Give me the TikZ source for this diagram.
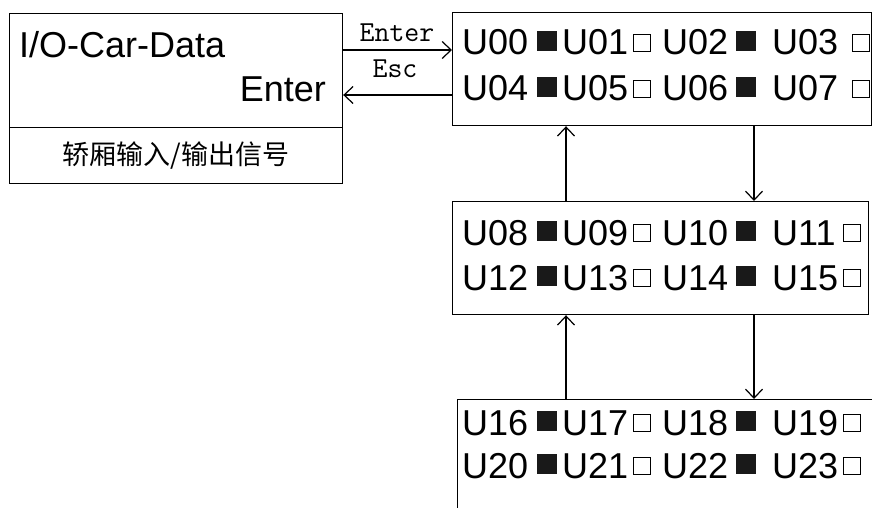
\documentclass[tikz,border=0pt]{standalone}
\usepackage{fontspec}
\setmainfont{Liberation Sans}
\newfontfamily\cjkf{Noto Sans CJK SC}
\usetikzlibrary{arrows.meta}
\tikzset{
  box/.style={draw=black, line width=1.2pt, inner sep=0pt, anchor=north west},
  lab/.style={inner sep=0pt, anchor=base west, font=\fontsize{36}{40}\selectfont},
  fsq/.style={fill=black!90, inner sep=0pt, minimum width=20pt, minimum height=20pt, anchor=north west},
  osq/.style={draw=black, line width=0.9pt, inner sep=0pt, minimum width=17pt, minimum height=17pt, anchor=north west},
  keylab/.style={inner sep=0pt, anchor=base, font=\ttfamily\fontsize{29}{32}\selectfont},
  arr/.style={line width=1.2pt, -{Straight Barb[length=9pt,width=17pt]}}
}
\newcommand\urow[7]{%
  \node[lab] (#1a) at (462,#2) {#3};
  \node[fsq] (#1b) at (537,#2-24) {};
  \node[lab] (#1c) at (562,#2) {#4};
  \node[osq] (#1d) at (633,#2-21) {};
  \node[lab] (#1e) at (662,#2) {#5};
  \node[fsq] (#1f) at (736,#2-24) {};
  \node[lab] (#1g) at (772,#2) {#6};
  \node[osq] (#1h) at (#7,#2-21) {};
}
\begin{document}
\begin{tikzpicture}[x=1pt,y=-1pt]
\useasboundingbox (0,0) rectangle (872,508);
\clip (0,0) rectangle (872,508);
% left box
\node[box, minimum width=333pt, minimum height=114pt] (iotop) at (9,13) {};
\node[box, minimum width=333pt, minimum height=56pt] (iobot) at (9,127) {};
\node[inner sep=0pt, anchor=base west, font=\fontsize{36}{40}\selectfont] (iotitle) at (19,58) {I/O-Car-Data};
\node[inner sep=0pt, anchor=base east, font=\fontsize{36}{40}\selectfont] (ioenter) at (326,102) {Enter};
\node[inner sep=0pt, font=\cjkf\fontsize{27}{30}\selectfont] (iocn) at (iobot.center) {轿厢输入/输出信号};
% right boxes
\node[box, minimum width=419pt, minimum height=113pt] (topbox) at (452,12) {};
\node[box, minimum width=416pt, minimum height=113pt] (midbox) at (452,201) {};
\node[box, minimum width=460pt, minimum height=160pt] (botbox) at (457,399) {};
\urow{ra}{55}{U00}{U01}{U02}{U03}{852}
\urow{rb}{101}{U04}{U05}{U06}{U07}{852}
\urow{rc}{245}{U08}{U09}{U10}{U11}{843}
\urow{rd}{290}{U12}{U13}{U14}{U15}{843}
\urow{re}{435}{U16}{U17}{U18}{U19}{843}
\urow{rf}{478}{U20}{U21}{U22}{U23}{843}
% arrows between left and top box
\coordinate (p1) at (iotop.east |- 0,50);
\coordinate (p2) at (topbox.west |- 0,95);
\draw[arr] (p1) -- (p1 -| topbox.west);
\draw[arr] (p2) -- (p2 -| iotop.east);
\node[keylab] (kenter) at (397,42) {Enter};
\node[keylab] (kesc) at (395,78) {Esc};
% vertical arrows
\coordinate (ux) at (566,0);
\coordinate (dx) at (754,0);
\draw[arr] (midbox.north -| ux) -- (topbox.south -| ux);
\draw[arr] (topbox.south -| dx) -- (midbox.north -| dx);
\draw[arr] (botbox.north -| ux) -- (midbox.south -| ux);
\draw[arr] (midbox.south -| dx) -- (botbox.north -| dx);
\end{tikzpicture}
\end{document}
